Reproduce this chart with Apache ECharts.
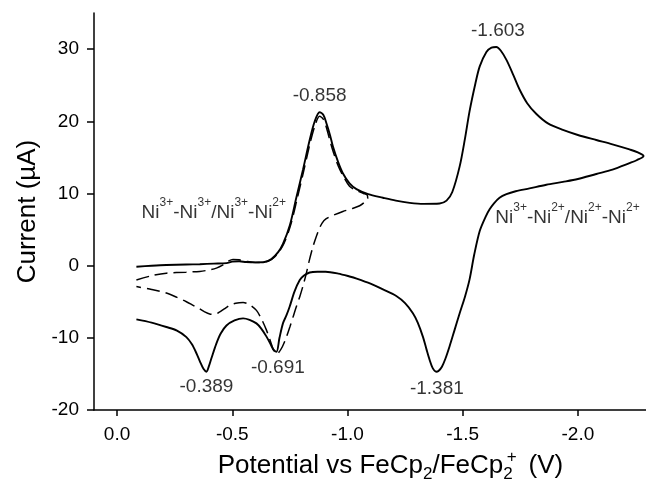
<!DOCTYPE html>
<html>
<head>
<meta charset="utf-8">
<script src="https://cdn.jsdelivr.net/npm/echarts@6/dist/echarts.min.js"></script>
<style>
html,body{margin:0;padding:0;background:#fff;}
#chart{width:646px;height:481px;}
</style>
</head>
<body>
<div id="chart"></div>
<script>
// Potential (V vs FeCp2/FeCp2+) and current (µA)
var solidCV = [
[-0.084,-0.15],[-0.15,-0.02],[-0.214,0.08],[-0.30,0.15],[-0.359,0.2],[-0.42,0.28],[-0.475,0.35],
[-0.50,0.55],[-0.53,0.6],[-0.56,0.5],[-0.60,0.45],[-0.64,0.5],[-0.67,0.9],[-0.70,1.9],[-0.72,3.0],
[-0.75,5.6],[-0.778,9.4],[-0.807,13.3],[-0.836,17.4],[-0.858,20.0],[-0.879,21.25],[-0.895,20.9],
[-0.908,19.8],[-0.925,18.0],[-0.937,16.5],[-0.96,14.3],[-0.98,12.8],[-1.009,11.4],[-1.039,10.6],
[-1.09,9.9],[-1.154,9.4],[-1.21,9.0],[-1.27,8.7],[-1.33,8.55],[-1.40,8.6],[-1.43,9.0],[-1.455,10.2],
[-1.487,13.75],[-1.51,17.6],[-1.53,21.4],[-1.555,25.2],[-1.574,27.6],[-1.603,29.6],[-1.625,30.2],
[-1.646,30.3],[-1.665,29.8],[-1.69,28.5],[-1.72,26.4],[-1.747,24.4],[-1.78,22.5],[-1.82,21.0],
[-1.87,19.7],[-1.935,18.8],[-2.0,18.1],[-2.08,17.4],[-2.15,16.8],[-2.224,16.1],[-2.26,15.7],[-2.285,15.2],
[-2.255,14.6],[-2.224,14.2],[-2.15,13.3],[-2.08,12.7],[-2.0,12.0],[-1.935,11.6],[-1.863,11.2],
[-1.79,10.7],[-1.73,10.3],[-1.69,9.9],[-1.66,9.4],[-1.635,8.6],[-1.617,7.8],[-1.60,6.8],[-1.574,4.8],
[-1.55,1.5],[-1.53,-1.9],[-1.51,-4.3],[-1.487,-6.6],[-1.465,-8.9],[-1.443,-11.2],[-1.425,-12.9],
[-1.41,-14.0],[-1.395,-14.6],[-1.385,-14.7],[-1.37,-14.2],[-1.357,-13.1],[-1.343,-11.6],[-1.328,-9.9],
[-1.305,-7.9],[-1.284,-6.6],[-1.25,-5.2],[-1.212,-4.2],[-1.154,-3.3],[-1.10,-2.5],[-1.04,-1.8],
[-1.009,-1.5],[-0.96,-1.1],[-0.905,-0.85],[-0.87,-0.85],[-0.836,-0.95],[-0.81,-1.4],[-0.793,-2.0],
[-0.77,-3.6],[-0.749,-5.7],[-0.735,-6.9],[-0.72,-8.0],[-0.705,-10.0],[-0.692,-11.95],[-0.678,-11.6],
[-0.665,-10.8],[-0.648,-9.8],[-0.625,-8.7],[-0.605,-8.0],[-0.575,-7.5],[-0.547,-7.3],[-0.51,-7.6],
[-0.475,-8.3],[-0.45,-9.4],[-0.431,-10.8],[-0.41,-12.8],[-0.398,-14.0],[-0.388,-14.7],[-0.375,-14.3],
[-0.36,-13.3],[-0.344,-12.1],[-0.325,-10.9],[-0.301,-9.9],[-0.26,-9.0],[-0.214,-8.5],[-0.15,-7.9],
[-0.084,-7.45]
];
var dashedCV = [
[-0.084,-2.0],[-0.15,-1.4],[-0.214,-1.05],[-0.30,-0.9],[-0.359,-0.8],[-0.40,-0.6],[-0.431,-0.35],
[-0.46,0.1],[-0.485,0.65],[-0.503,0.85],[-0.53,0.8],[-0.561,0.6],[-0.60,0.45],[-0.633,0.45],
[-0.66,0.7],[-0.68,1.1],[-0.70,1.8],[-0.725,3.1],[-0.755,5.8],[-0.782,9.3],[-0.81,13.1],[-0.838,17.0],
[-0.86,19.5],[-0.879,20.7],[-0.895,20.3],[-0.908,19.2],[-0.925,17.2],[-0.94,15.6],[-0.96,13.8],
[-0.98,12.5],[-1.009,11.0],[-1.04,10.4],[-1.07,10.0],[-1.085,9.8],[-1.088,9.3],[-1.075,8.8],
[-1.053,8.3],[-1.02,7.9],[-0.98,7.5],[-0.94,7.0],[-0.908,6.5],[-0.89,5.9],[-0.875,4.9],[-0.86,3.6],
[-0.85,2.6],[-0.835,0.8],[-0.822,-1.0],[-0.808,-2.7],[-0.793,-4.3],[-0.778,-5.7],[-0.764,-7.1],
[-0.75,-8.5],[-0.735,-9.9],[-0.718,-11.2],[-0.70,-12.1],[-0.69,-12.2],[-0.678,-11.6],[-0.665,-10.4],
[-0.648,-8.9],[-0.627,-7.4],[-0.605,-6.2],[-0.575,-5.4],[-0.547,-5.1],[-0.515,-5.2],[-0.489,-5.5],
[-0.465,-6.0],[-0.446,-6.4],[-0.425,-6.75],[-0.402,-6.7],[-0.38,-6.4],[-0.359,-6.0],[-0.33,-5.5],
[-0.301,-5.0],[-0.26,-4.4],[-0.214,-3.8],[-0.15,-3.3],[-0.084,-2.9]
];
var xTicks = [0, -0.5, -1.0, -1.5, -2.0];
var yTicks = [-20, -10, 0, 10, 20, 30];
var peakLabels = ['-0.858', '-1.603', '-0.389', '-0.691', '-1.381'];
var peakLabelAt = [[-0.879, 23.6], [-1.653, 32.6], [-0.388, -16.8], [-0.698, -14.1], [-1.388, -17.0]];
var coupleLabels = [
  '{n|Ni}{s|3+}{n|-Ni}{s|3+}{n|/Ni}{s|3+}{n|-Ni}{s|2+}',
  '{n|Ni}{s|3+}{n|-Ni}{s|2+}{n|/Ni}{s|2+}{n|-Ni}{s|2+}'
];
var coupleLabelAt = [[-0.42, 7.8], [-1.955, 7.1]];

var FONT = '"Liberation Sans", Arial, Helvetica, sans-serif';
var chart = echarts.init(document.getElementById('chart'), null, {renderer: 'canvas'});
var richStyles = {
  n: {fontSize: 19, fontFamily: FONT, color: '#000', lineHeight: 26, verticalAlign: 'bottom', textBorderWidth: 0},
  s: {fontSize: 12, fontFamily: FONT, color: '#000', lineHeight: 26, verticalAlign: 'top', textBorderWidth: 0}
};
var option = {
  backgroundColor: '#fff',
  animation: false,
  grid: {left: 94, top: 13, width: 553, height: 397, containLabel: false, outerBoundsMode: 'none'},
  xAxis: {
    type: 'value', inverse: true, min: -2.3, max: 0.1,
    axisLine: {onZero: false, lineStyle: {color: '#000', width: 1.5}},
    axisTick: {show: true, length: 6, inside: false, customValues: xTicks, lineStyle: {color: '#000', width: 1.5}},
    axisLabel: {customValues: xTicks, margin: 15, color: '#000', fontSize: 19, fontFamily: FONT,
      formatter: function (v) { return (Math.abs(v) < 1e-9 ? 0 : v).toFixed(1); }},
    splitLine: {show: false},
    name: '{f|Potential vs FeCp}{b|2}{n|/FeCp}{b|2}{p|+}{v|(V)}',
    nameLocation: 'middle', nameGap: 36,
    nameTextStyle: {
      rich: {
        f: {fontSize: 26, fontFamily: FONT, color: '#000', lineHeight: 34, verticalAlign: 'middle', padding: [0, 0, 0, 40]},
        n: {fontSize: 26, fontFamily: FONT, color: '#000', lineHeight: 34, verticalAlign: 'middle'},
        v: {fontSize: 26, fontFamily: FONT, color: '#000', lineHeight: 34, verticalAlign: 'middle', padding: [0, 0, 0, 10]},
        b: {fontSize: 17, fontFamily: FONT, color: '#000', lineHeight: 34, verticalAlign: 'bottom', padding: [10, 0, 0, 0]},
        p: {fontSize: 17, fontFamily: FONT, color: '#000', lineHeight: 34, verticalAlign: 'top', padding: [0, 2, 0, -6]}
      }
    }
  },
  yAxis: {
    type: 'value', min: -20, max: 35,
    axisLine: {onZero: false, lineStyle: {color: '#000', width: 1.5}},
    axisTick: {show: true, length: 7, inside: false, customValues: yTicks, lineStyle: {color: '#000', width: 1.5}},
    axisLabel: {customValues: yTicks, margin: 15, color: '#000', fontSize: 19, fontFamily: FONT},
    splitLine: {show: false},
    name: 'Current (\u00b5A)', nameLocation: 'middle', nameGap: 40,
    nameTextStyle: {fontSize: 26, fontFamily: FONT, color: '#000'}
  },
  series: [
    {type: 'line', data: solidCV, showSymbol: false, smooth: 0.3,
      lineStyle: {color: '#000', width: 1.9}, z: 3},
    {type: 'line', data: dashedCV, showSymbol: false, smooth: 0.3,
      lineStyle: {color: '#000', width: 1.5, type: [13, 6]}, z: 2},
    {type: 'scatter', symbolSize: 0, silent: true,
      data: peakLabelAt.map(function (p, i) { return {value: p, name: peakLabels[i]}; }),
      label: {show: true, position: 'inside', formatter: '{b}', color: '#000', fontSize: 19,
        fontFamily: FONT, textBorderWidth: 0}},
    {type: 'scatter', symbolSize: 0, silent: true,
      data: coupleLabelAt.map(function (p, i) { return {value: p, name: coupleLabels[i]}; }),
      label: {show: true, position: 'inside', formatter: '{b}', rich: richStyles, textBorderWidth: 0}}
  ]
};
chart.setOption(option);
</script>
</body>
</html>
